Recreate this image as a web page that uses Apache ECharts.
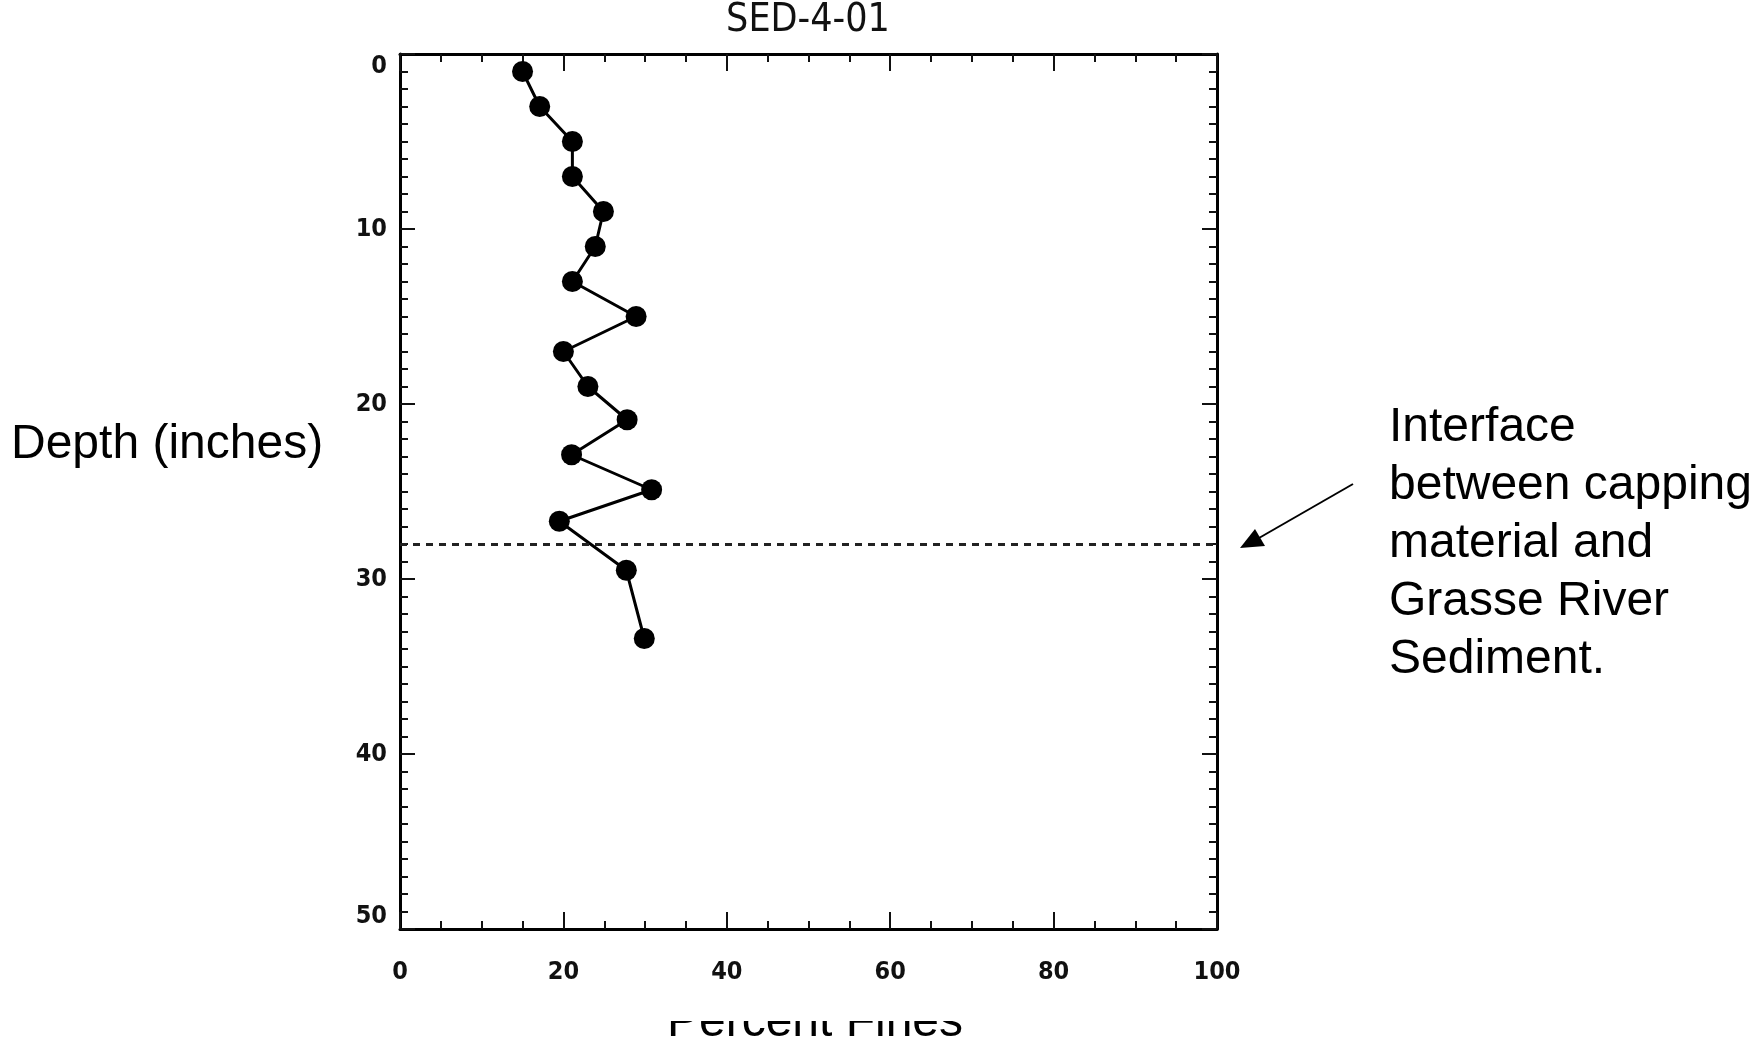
<!DOCTYPE html>
<html>
<head>
<meta charset="utf-8">
<style>
  html, body { margin: 0; padding: 0; background: #fff; }
  #chart { width: 1759px; height: 1041px; }
</style>
<script src="https://cdn.jsdelivr.net/npm/echarts@6/dist/echarts.min.js"></script>
</head>
<body>
<div id="chart"></div>
<script>
// percent fines at each sample depth (inches)
var percentFines = [15.0, 17.1, 21.1, 21.1, 24.9, 23.9, 21.1, 28.9, 20.0, 23.0, 27.8, 21.0, 30.8, 19.5, 27.7, 29.9];
var depths = [1.0, 3.0, 5.0, 7.0, 9.0, 11.0, 13.0, 15.0, 17.0, 19.0, 20.9, 22.9, 24.9, 26.7, 29.5, 33.4];
var interfaceDepth = 28;
var xTicks = [0, 20, 40, 60, 80, 100];
var yTicks = [0, 10, 20, 30, 40, 50];

var chart = echarts.init(document.getElementById("chart"));

var points = [];
for (var i = 0; i < depths.length; i++) {
  points.push([percentFines[i], depths[i]]);
}

var sansFont = "'Liberation Sans', Arial, sans-serif";
var tickFont = "'DejaVu Sans Condensed', 'Liberation Sans Narrow', sans-serif";

// shared look of the box axes
function xAxisBase(pos, showLabels) {
  return {
    type: "value",
    position: pos,
    min: xTicks[0],
    max: xTicks[xTicks.length - 1],
    interval: 20,
    axisLine: { show: true, onZero: false, lineStyle: { color: "#000", width: 3 } },
    axisTick: { show: true, inside: true, length: 17, lineStyle: { color: "#111", width: 2 } },
    minorTick: { show: true, splitNumber: 4, length: 8, lineStyle: { color: "#111", width: 2 } },
    splitLine: { show: false },
    axisLabel: {
      show: showLabels,
      margin: 31,
      color: "#111",
      fontSize: 25,
      fontWeight: "bold",
      fontFamily: tickFont
    }
  };
}

function yAxisBase(pos, showLabels) {
  return {
    type: "value",
    position: pos,
    inverse: true,
    min: yTicks[0],
    max: yTicks[yTicks.length - 1],
    interval: 10,
    axisLine: { show: true, onZero: false, lineStyle: { color: "#000", width: 3 } },
    axisTick: { show: true, inside: true, length: 15, lineStyle: { color: "#111", width: 2 } },
    minorTick: { show: true, splitNumber: 10, length: 8, lineStyle: { color: "#111", width: 2 } },
    splitLine: { show: false },
    axisLabel: {
      show: showLabels,
      margin: 13,
      color: "#111",
      fontSize: 25,
      fontWeight: "bold",
      fontFamily: tickFont,
      verticalAlignMinLabel: "top",
      verticalAlignMaxLabel: "bottom"
    }
  };
}

var option = {
  animation: false,
  backgroundColor: "#fff",
  grid: { left: 400, top: 54, right: 542, bottom: 112, containLabel: false },
  xAxis: [xAxisBase("bottom", true), xAxisBase("top", false)],
  yAxis: [yAxisBase("left", true), yAxisBase("right", false)],
  series: [
    {
      type: "line",
      xAxisIndex: 0,
      yAxisIndex: 0,
      data: points,
      symbol: "circle",
      symbolSize: 21,
      itemStyle: { color: "#000" },
      lineStyle: { color: "#000", width: 3 },
      markLine: {
        silent: true,
        symbol: ["none", "none"],
        label: { show: false },
        lineStyle: { color: "#222", width: 3, type: [7, 6] },
        data: [{ yAxis: interfaceDepth }]
      }
    }
  ],
  graphic: [
    {
      type: "text",
      x: 808,
      y: 21,
      style: {
        text: "SED-4-01",
        fill: "#111",
        font: "39px " + tickFont,
        align: "center",
        verticalAlign: "middle"
      }
    },
    {
      type: "text",
      x: 11,
      y: 445,
      style: {
        text: "Depth (inches)",
        fill: "#000",
        font: "48px " + sansFont,
        align: "left",
        verticalAlign: "middle"
      }
    },
    {
      type: "text",
      x: 1389,
      y: 399,
      style: {
        text: "Interface\nbetween capping\nmaterial and\nGrasse River\nSediment.",
        fill: "#000",
        font: "48px " + sansFont,
        lineHeight: 58,
        align: "left",
        verticalAlign: "top"
      }
    },
    {
      // x axis title, its upper half is hidden under the plot picture
      type: "text",
      x: 815,
      y: 1023,
      z: 1,
      style: {
        text: "Percent Fines",
        fill: "#000",
        font: "48px " + sansFont,
        align: "center",
        verticalAlign: "middle"
      }
    },
    {
      type: "rect",
      z: 2,
      shape: { x: 560, y: 992, width: 520, height: 29 },
      style: { fill: "#fff" }
    },
    {
      // arrow pointing at the interface line
      type: "line",
      shape: { x1: 1353, y1: 484, x2: 1259, y2: 538 },
      style: { stroke: "#000", lineWidth: 2 }
    },
    {
      type: "polygon",
      shape: { points: [[1240, 548], [1255, 529], [1265, 546]] },
      style: { fill: "#000" }
    }
  ]
};

chart.setOption(option);
</script>
</body>
</html>
